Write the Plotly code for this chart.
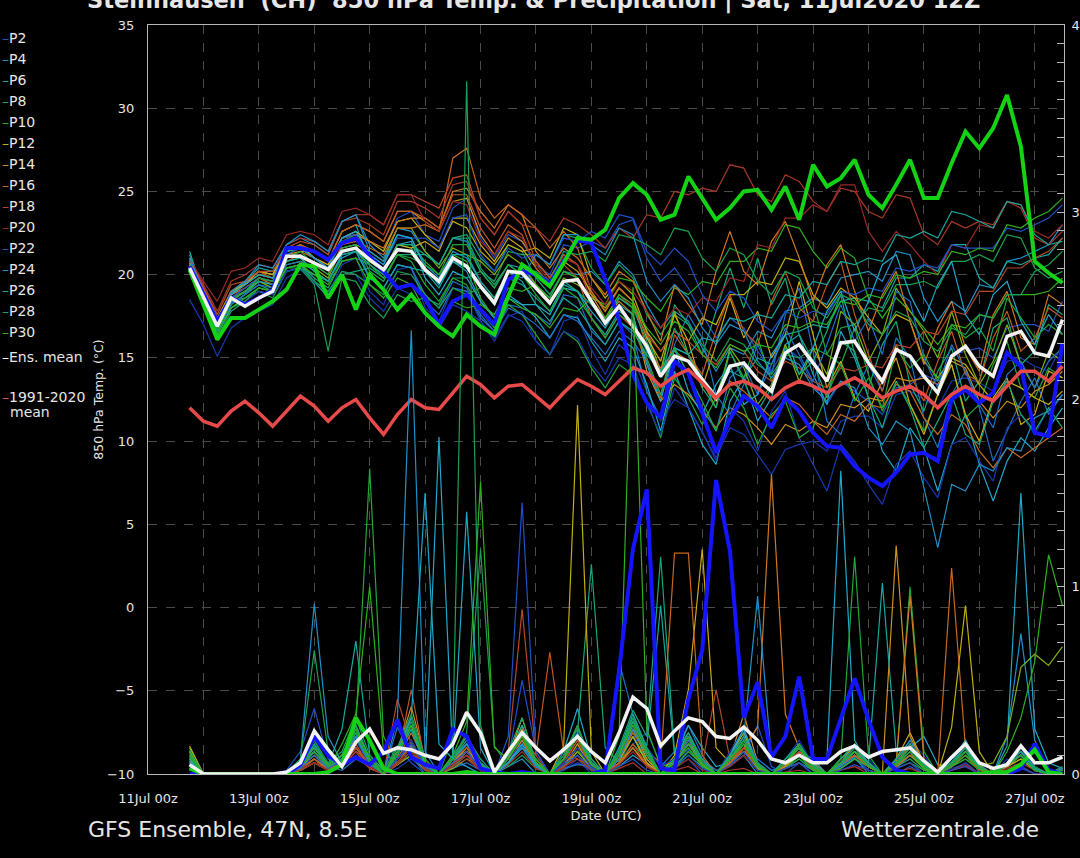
import plotly.graph_objects as go
import pandas as pd

# ---------------- data ----------------
start_time = "2020-07-11 18:00"
n_steps = 64
tick_dates = ["2020-07-11", "2020-07-13", "2020-07-15", "2020-07-17", "2020-07-19",
              "2020-07-21", "2020-07-23", "2020-07-25", "2020-07-27"]
tick_labels = ["11Jul 00z", "13Jul 00z", "15Jul 00z", "17Jul 00z", "19Jul 00z",
               "21Jul 00z", "23Jul 00z", "25Jul 00z", "27Jul 00z"]
temp_ticks = [-10, -5, 0, 5, 10, 15, 20, 25, 30, 35]
prec_ticks = [0, 10, 20, 30, 40]

ens_mean_temp = [20.4,18.7,16.9,18.6,18.1,18.6,19.0,21.1,21.1,20.7,20.3,21.4,21.6,20.9,20.3,21.5,21.4,20.3,19.6,21.0,20.5,19.3,18.3,20.2,20.1,19.2,18.3,19.6,19.7,18.4,17.1,18.1,16.9,15.7,13.9,15.1,14.8,13.7,12.6,14.5,14.7,13.7,13.0,15.3,15.8,14.7,13.6,15.9,16.0,14.7,13.6,15.5,15.1,13.9,12.9,15.1,15.7,14.5,13.9,16.3,16.6,15.3,15.1,17.3]
clim_temp = [12.0,11.2,10.9,11.8,12.4,11.7,10.9,11.8,12.7,12.1,11.2,12.0,12.5,11.4,10.4,11.6,12.5,12.0,11.9,12.9,13.9,13.4,12.6,13.3,13.4,12.7,12.0,12.9,13.7,13.3,12.8,13.6,14.4,14.1,13.3,13.9,14.3,13.5,12.6,13.4,13.6,13.2,12.5,13.2,13.6,13.3,12.9,13.4,13.8,13.3,12.6,13.0,13.3,12.8,12.0,12.8,13.3,12.8,12.4,13.3,14.2,14.2,13.6,14.5]
ctrl_temp = [20.3,18.2,16.1,17.4,17.4,17.9,18.4,19.1,20.6,20.5,18.6,20.0,17.9,20.0,19.1,17.9,18.8,17.7,16.9,16.3,17.6,16.9,16.4,18.7,20.6,20.0,19.3,20.7,22.2,22.1,22.7,24.6,25.5,24.8,23.3,23.6,25.9,24.6,23.3,24.0,25.0,25.1,23.9,25.3,23.3,26.6,25.3,25.8,26.9,24.8,24.0,25.4,26.9,24.6,24.6,26.7,28.6,27.6,28.8,30.8,27.7,20.8,20.1,19.5]
oper_temp = [20.5,18.8,17.2,18.6,18.2,18.6,19.1,21.6,21.6,21.4,20.9,21.9,22.2,21.1,20.2,19.2,19.4,18.6,17.0,18.4,18.8,17.9,17.0,19.7,20.2,20.0,19.5,20.8,22.1,21.9,19.7,17.3,14.0,12.3,11.4,14.8,14.1,11.7,9.3,11.3,12.7,12.1,10.8,12.6,11.8,10.5,9.7,9.6,8.5,7.8,7.3,8.1,9.2,9.3,8.8,12.5,13.1,12.3,12.9,15.3,14.5,10.5,10.3,15.9]

ens_mean_prec = [0.5,0,0,0,0,0,0,0.1,0.6,2.3,1.3,0.4,1.7,2.4,1.1,1.4,1.3,1.0,0.8,1.6,3.3,2.2,0.1,1.2,2.2,1.4,0.7,1.3,2.0,1.2,0.6,2.2,4.1,3.5,1.5,2.3,3.0,2.8,2.0,1.9,2.5,1.8,0.8,0.6,1.0,0.6,0.6,1.2,1.5,0.9,1.2,1.3,1.4,0.7,0.1,0.9,1.6,0.6,0.3,0.5,1.5,0.6,0.6,0.9]
oper_prec = [0,0,0,0,0,0,0,0,0.5,2.0,1.0,0.5,0.9,0.5,1.2,2.9,0.9,0.5,0.3,2.4,2.0,0.3,0.1,0,0.1,0,0,0,0,0,0.2,5.5,12.0,15.2,0.3,0.2,4.0,6.6,15.7,11.9,3.0,4.9,0.9,2.0,5.2,0.8,0.8,3.0,5.1,2.9,0.9,0.2,0,0,0,0,0,0,0,0,0.3,1.6,0.2,0]
ctrl_prec = [0.3,0,0,0,0,0,0,0,0,0,0.1,0.5,3.0,1.8,0.3,0,0,0,0,0,0.1,0,0,0,0,0,0,0,0,0,0,0,0,0,0,0,0,0,0,0,0,0,0,0,0,0,0,0,0,0,0,0,0,0,0,0,0,0,0.1,0.1,0.5,1.3,0.1,0]

# member temperatures (P1..P30)
p01_temp = [18.5, 17.0,15.1,16.8,17.4, 17.8,18.2,19.8,20.3, 19.5,18.8,20.6,21.0, 19.0,18.2,20.3,20.5, 18.0,17.2,19.2,19.0, 17.2,16.0,17.5,17.8, 16.0,15.2,17.2,17.5, 15.5,14.0,15.8,15.0, 13.0,11.2,12.5,12.0, 10.5,9.0,10.8,10.4, 9.2,8.0,9.5,9.8, 10.0,9.4,11.2,11.5, 11.5,10.8,12.8,13.0, 12.5,12.0,13.6,13.8, 13.5,13.0,14.8,15.0, 14.5,14.2,15.8]
p02_temp = [20.6, 18.6,17.0,18.3,18.8, 19.8,19.6,21.4,21.8, 21.0,20.4,22.2,22.6, 22.0,21.4,23.4,23.8, 22.4,22.0,24.0,24.6, 22.2,21.0,22.4,22.0, 20.6,20.0,21.8,21.6, 22.0,21.6,23.0,23.3, 21.0,19.6,20.4,19.2, 17.6,16.2,17.4,16.8, 15.4,14.2,15.6,15.0, 13.4,12.2,13.6,13.0, 12.4,11.6,13.2,13.4, 14.0,13.6,15.2,15.4, 15.6,15.0,16.8,17.0, 17.0,16.6,18.4]
p03_temp = [20.8, 18.8,16.8,18.6,18.9, 19.6,19.4,21.0,21.2, 20.6,20.0,21.6,21.8, 19.8,19.2,20.6,20.4, 18.4,17.6,19.2,19.0, 17.4,16.6,18.2,18.0, 17.6,17.0,18.8,18.6, 16.6,15.8,17.2,16.4, 13.0,11.4,15.8,17.6, 16.2,12.8,11.6,13.4, 15.8,14.0,17.6,19.2, 15.4,11.2,10.4,12.8, 14.6,13.0,16.2,15.0, 11.4,9.6,12.8,14.2, 12.0,8.8,10.6,12.4, 13.8,11.6,12.8]
p04_temp = [21.2, 19.0,17.2,18.9,19.5, 20.2,20.0,21.8,22.2, 21.8,21.2,23.2,23.6, 21.8,21.0,22.8,22.6, 21.4,20.6,22.2,22.0, 20.2,19.2,20.6,20.4, 19.4,18.6,20.2,20.0, 20.2,19.4,20.8,20.0, 18.2,16.8,17.8,17.2, 15.6,14.2,15.6,15.2, 16.6,16.2,17.8,18.0, 18.6,18.2,19.8,20.0, 20.2,19.6,21.4,21.2, 18.6,17.2,18.4,17.8, 19.4,19.2,20.8,21.0, 21.4,21.8,23.0]
p05_temp = [20.6, 18.4,16.6,18.4,18.6, 19.0,18.8,20.2,20.4, 20.0,19.6,21.0,21.4, 20.6,20.0,21.8,22.0, 19.8,18.8,20.2,19.8, 18.4,17.4,18.6,18.2, 17.4,16.2,17.6,17.4, 16.0,14.8,16.2,15.6, 13.4,10.6,14.2,12.0, 9.8,8.6,12.4,13.8, 11.2,12.6,15.8,16.4, 14.0,12.2,16.6,15.0, 12.6,9.4,8.2,10.8, 9.6,7.0,9.8,11.6, 8.6,6.4,8.8,10.2, 9.4,10.8,12.0]
p06_temp = [21.4, 18.9,16.8,18.8,19.6, 20.4,20.2,21.4,21.8, 21.4,20.8,22.6,23.0, 20.8,20.2,21.8,21.6, 20.2,19.2,20.8,20.4, 19.2,18.2,19.8,19.4, 18.6,17.8,19.4,19.0, 17.4,16.4,17.8,17.2, 15.4,14.0,15.6,15.2, 13.8,12.8,14.2,13.8, 15.0,14.6,16.4,16.6, 17.0,16.8,18.4,18.6, 18.4,18.0,19.8,19.8, 20.6,20.2,21.8,21.8, 19.8,19.2,20.8,20.6, 21.0,21.2,22.2]
p07_temp = [20.4, 18.4,16.4,18.2,18.8, 19.4,19.0,20.4,20.6, 19.6,18.6,20.0,20.2, 20.4,19.8,21.2,21.2, 21.2,20.6,22.2,22.4, 21.0,20.2,21.8,21.4, 19.8,18.8,20.2,19.8, 18.4,17.2,18.6,18.0, 16.4,13.8,18.2,17.0, 15.2,17.8,20.4,18.0, 21.0,18.2,19.8,16.4, 14.8,16.6,18.8,15.2, 13.2,15.8,17.2,13.4, 11.8,14.2,15.6,12.4, 13.6,16.8,17.4,14.6, 15.4,18.2,17.6]
p08_temp = [20.2, 18.2,16.4,18.0,18.4, 19.0,18.6,20.2,20.4, 19.4,15.4,19.8,19.6, 18.2,17.4,18.8,18.4, 18.6,18.2,19.8,19.8, 20.2,19.6,21.4,21.2, 21.2,20.6,22.4,22.2, 20.4,19.4,20.6,19.8, 17.6,16.4,17.6,17.0, 15.8,14.8,16.2,15.8, 14.6,14.0,15.2,15.0, 15.6,15.2,16.8,17.0, 18.0,17.8,19.4,19.4, 19.6,19.2,20.8,20.8, 21.2,20.8,22.4,22.2, 20.4,19.8,20.2]
p09_temp = [20.7, 18.6,16.6,18.6,19.0, 19.8,19.6,21.2,21.6, 21.0,20.4,22.0,22.4, 20.6,19.8,21.2,20.8, 19.4,18.4,19.8,19.4, 17.8,16.8,18.2,17.6, 16.4,15.2,16.6,16.0, 14.4,13.2,14.6,14.0, 12.4,10.2,13.8,12.6, 11.0,12.6,15.4,13.8, 16.2,13.6,15.0,17.8, 18.4,15.2,14.6,16.8, 14.0,11.8,13.6,12.2, 10.6,12.8,14.6,11.4, 12.2,14.6,16.0,13.2, 12.6,14.4,13.8]
p10_temp = [20.5, 18.4,16.6,18.2,18.8, 19.6,19.2,20.8,21.0, 20.2,19.6,21.2,21.4, 20.8,20.2,21.8,21.8, 20.8,20.0,21.2,20.8, 18.6,17.4,18.6,18.0, 17.6,16.8,18.0,17.8, 18.6,18.2,19.8,19.6, 18.6,17.8,19.2,18.8, 19.6,19.4,20.8,20.8, 21.6,21.4,23.0,22.8, 21.4,20.4,21.6,21.0, 18.6,17.4,18.6,17.8, 16.8,15.8,17.0,16.8, 17.6,17.4,18.8,18.8, 18.8,19.0,19.8]
p11_temp = [20.6, 18.6,16.8,18.4,19.0, 19.6,19.2,20.6,20.8, 20.4,19.8,21.6,21.8, 21.4,20.8,22.8,22.8, 21.4,20.4,21.6,21.2, 20.8,20.0,21.2,20.6, 19.4,18.4,19.8,19.4, 18.8,18.0,19.2,18.4, 16.6,14.2,17.8,15.2, 13.6,12.0,15.6,14.4, 12.2,13.4,15.8,13.6, 15.6,14.0,17.8,17.0, 14.8,16.4,19.2,17.8, 16.6,15.0,17.8,15.2, 13.4,14.8,17.0,14.6, 13.2,15.4,14.8]
p12_temp = [20.9, 19.0,17.2,19.0,19.4, 20.2,20.0,21.4,21.6, 21.0,20.6,22.2,22.6, 22.0,21.4,23.2,23.4, 22.4,21.6,23.2,22.8, 21.4,20.6,21.8,21.4, 21.6,21.0,22.8,22.4, 19.8,18.6,19.6,18.8, 16.6,15.4,16.6,16.0, 17.4,17.0,18.8,18.8, 19.6,19.4,21.0,20.8, 18.8,18.0,19.2,18.6, 17.4,16.4,17.6,17.2, 14.8,13.8,15.0,14.6, 13.4,12.4,13.6,13.2, 12.6,12.2,13.0]
p13_temp = [21.0, 19.2,17.4,19.0,19.6, 20.2,20.0,21.4,21.8, 21.0,20.6,22.2,22.4, 20.8,20.2,21.8,21.6, 22.0,21.4,23.4,23.4, 21.8,20.8,22.2,21.6, 20.4,19.4,20.8,20.2, 19.0,17.8,19.2,18.4, 16.2,14.8,17.6,16.0, 13.2,15.8,18.6,16.2, 17.8,15.0,16.4,19.6, 16.4,13.2,14.8,12.6, 11.8,13.6,15.0,12.2, 10.4,12.8,14.6,11.6, 10.0,12.6,13.8,11.0, 11.6,14.2,13.8]
p14_temp = [20.9, 19.0,17.2,18.8,19.4, 20.0,19.8,21.2,21.4, 21.4,20.8,22.6,23.0, 22.6,22.0,23.8,23.8, 23.2,22.6,24.4,24.6, 22.4,21.2,22.6,22.0, 20.8,19.8,21.2,20.6, 18.8,17.4,18.4,17.6, 14.2,12.4,13.4,12.8, 11.8,10.8,12.0,11.6, 10.8,9.8,11.0,10.6, 11.2,10.8,12.2,12.0, 12.6,12.4,13.8,13.6, 13.8,13.4,14.8,14.4, 12.4,11.4,12.4,12.0, 13.0,13.4,14.2]
p15_temp = [20.7, 18.9,17.0,18.8,19.2, 19.8,19.6,21.0,21.4, 21.0,20.4,22.2,22.4, 22.0,21.6,23.2,23.4, 23.4,22.8,25.0,25.2, 23.8,22.8,24.2,23.6, 21.4,20.4,21.6,21.0, 19.8,18.8,20.2,19.6, 17.8,16.0,19.4,18.2, 17.0,20.2,22.6,20.2, 19.4,22.0,23.2,21.0, 18.4,20.6,21.8,19.0, 16.6,18.8,20.2,17.2, 14.6,16.8,18.4,15.6, 14.2,17.6,19.0,16.2, 15.8,18.8,18.2]
p16_temp = [20.6, 18.8,16.8,18.6,19.2, 19.8,19.4,20.8,21.2, 20.6,20.0,21.8,22.0, 21.6,21.2,22.8,22.8, 23.0,22.6,27.0,27.6, 24.6,23.4,24.2,23.6, 22.8,21.6,22.6,21.6, 19.0,17.8,19.2,18.4, 15.6,14.4,15.4,14.8, 13.4,12.4,13.6,13.0, 12.2,11.4,12.6,12.2, 11.2,10.4,11.6,11.2, 12.2,12.0,13.4,13.0, 11.4,10.4,11.6,11.0, 9.4,8.4,9.6,9.0, 9.6,10.2,10.8]
p17_temp = [20.8, 19.1,17.2,19.0,19.6, 20.2,19.8,21.4,21.8, 21.4,20.8,22.6,23.0, 22.6,22.0,23.8,23.8, 23.4,22.8,24.8,24.8, 22.8,21.6,23.0,22.4, 20.4,19.4,20.6,19.8, 17.4,16.2,17.6,16.8, 14.8,12.6,16.4,15.2, 14.0,16.6,18.8,16.6, 15.8,18.4,20.2,18.0, 17.2,19.4,20.8,17.6, 15.2,13.0,15.8,14.0, 12.4,14.8,16.6,14.0, 13.6,16.2,17.8,15.4, 16.2,18.0,17.4]
p18_temp = [20.9, 19.2,17.6,19.4,19.6, 20.2,20.2,21.6,22.0, 21.8,21.2,23.2,23.6, 23.6,23.0,24.8,24.8, 24.4,24.0,25.8,26.0, 23.4,22.4,23.8,23.0, 20.8,19.8,21.2,20.6, 18.4,17.4,18.8,18.0, 16.4,15.4,16.6,16.0, 15.2,14.6,15.8,15.4, 14.2,13.6,14.8,14.4, 13.6,13.2,14.4,14.2, 14.6,14.4,15.8,15.6, 16.6,16.4,17.8,17.6, 19.0,19.0,20.4,20.4, 21.0,21.4,22.2]
p19_temp = [21.0, 19.4,17.8,19.6,20.0, 20.6,20.4,21.8,22.2, 22.0,21.4,23.2,23.4, 23.0,22.4,24.4,24.4, 24.0,23.4,25.4,25.6, 23.4,22.4,23.8,23.0, 22.8,22.0,23.4,23.0, 22.4,21.6,22.8,22.2, 23.6,23.4,25.0,24.8, 25.2,25.0,26.6,26.4, 24.8,24.4,26.0,25.6, 24.4,23.8,25.2,25.0, 23.8,23.4,24.8,24.6, 22.4,21.8,23.2,22.8, 23.2,23.0,24.4,24.0, 22.2,21.8,22.6]
p20_temp = [20.9, 19.6,18.4,20.2,20.4, 21.0,20.8,22.4,22.6, 22.4,21.8,23.8,24.0, 23.6,23.0,24.8,24.8, 23.2,22.6,24.4,24.2, 22.0,21.2,22.6,22.2, 20.6,19.6,21.0,20.6, 19.2,18.2,19.6,19.0, 17.8,16.8,18.0,17.6, 18.6,18.4,19.8,19.6, 21.8,21.6,23.4,23.4, 24.2,23.8,25.4,25.4, 22.6,21.4,22.6,21.8, 20.8,20.0,21.8,21.6, 23.0,22.8,24.4,24.2, 22.6,22.2,23.0]
p21_temp = [20.3, 18.2,16.2,17.8,18.4, 19.0,18.8,20.2,20.4, 19.6,19.0,20.2,20.0, 18.6,17.8,19.2,18.8, 17.6,16.8,18.2,17.8, 17.2,16.2,17.6,17.2, 16.0,15.2,16.6,16.2, 14.6,13.6,15.0,14.6, 12.2,10.4,13.2,12.0, 10.6,8.8,12.0,11.2, 9.4,11.8,13.0,10.2, 8.6,7.0,9.8,8.8, 7.4,6.2,8.6,9.4, 7.8,6.6,9.8,10.2, 8.8,7.6,10.8,11.6, 10.4,12.0,12.6]
p22_temp = [20.6, 18.6,16.8,18.6,19.2, 19.8,19.6,21.2,21.6, 21.0,20.4,22.2,22.4, 21.2,20.6,22.2,22.2, 22.2,21.6,23.4,23.6, 21.2,20.2,21.6,21.0, 21.2,20.6,22.2,22.0, 22.6,22.2,23.6,23.4, 21.4,20.6,21.6,20.8, 18.8,17.8,19.0,18.6, 17.2,16.6,17.8,17.4, 17.8,17.6,19.0,18.8, 19.2,19.0,20.4,20.2, 20.6,20.4,21.8,21.6, 21.6,21.6,22.8,22.6, 23.0,23.4,24.2]
p23_temp = [20.5, 18.4,16.4,18.2,18.8, 19.4,19.2,20.6,20.8, 20.2,19.6,21.2,21.4, 19.8,19.2,20.6,20.4, 18.8,18.0,19.6,19.2, 17.6,16.6,18.0,17.6, 17.0,16.2,17.6,17.2, 16.2,15.2,16.6,16.0, 14.8,12.8,15.6,14.0, 12.0,10.6,13.8,14.6, 12.8,14.6,16.8,15.2, 13.6,15.8,18.2,16.0, 17.4,15.2,19.0,18.4, 15.0,13.2,15.8,14.2, 12.2,10.8,14.0,14.8, 13.2,14.8,15.6]
p24_temp = [21.0, 19.0,17.0,19.0,19.6, 20.6,20.4,21.8,22.4, 22.0,21.4,23.2,23.6, 21.4,20.8,22.4,22.2, 20.6,19.8,21.4,21.0, 19.6,18.6,20.2,19.8, 21.2,20.6,22.4,22.4, 21.8,21.2,22.8,22.4, 19.6,18.4,19.4,18.6, 16.8,15.8,17.0,16.6, 14.8,13.8,15.0,14.6, 13.2,12.4,13.6,13.2, 10.8,9.8,11.2,10.6, 7.2,3.6,7.4,7.0, 8.6,8.2,9.6,9.4, 11.4,11.8,12.8]
p25_temp = [20.7, 18.8,16.8,18.8,19.4, 20.0,19.8,21.4,21.6, 21.0,20.4,22.2,22.6, 21.2,20.6,22.4,22.2, 20.4,19.4,20.8,20.2, 18.4,17.4,18.8,18.2, 18.2,17.6,19.2,19.0, 17.8,16.8,18.2,17.6, 14.6,12.4,15.6,13.0, 11.6,13.4,14.6,12.2, 12.8,15.2,16.4,14.0, 15.6,17.8,19.0,16.6, 18.4,20.6,21.2,18.8, 17.2,19.4,20.8,17.6, 16.4,18.8,19.6,17.2, 15.8,17.6,16.4]
p26_temp = [20.5, 18.4,16.6,18.4,19.0, 19.6,19.4,20.8,21.0, 20.2,19.6,21.2,21.4, 19.8,19.2,20.6,20.4, 20.2,19.6,21.2,21.2, 19.6,18.6,20.2,19.6, 18.2,17.2,18.6,18.0, 16.8,15.8,17.2,16.6, 15.2,14.2,15.6,15.2, 16.2,16.0,17.4,17.2, 17.6,17.4,18.8,18.6, 19.6,19.4,20.8,20.6, 21.0,20.8,22.4,22.2, 22.6,22.2,23.8,23.6, 23.2,22.8,24.4,24.2, 22.4,21.8,22.0]
p27_temp = [20.4, 18.3,16.4,18.0,18.6, 19.2,19.0,20.4,20.6, 19.8,19.2,20.8,21.0, 20.6,20.0,21.8,21.8, 21.2,20.6,22.2,22.2, 20.4,19.4,20.6,20.0, 19.2,18.2,19.6,19.0, 18.2,17.2,18.6,18.0, 16.0,13.8,16.8,15.2, 13.2,12.0,15.4,13.6, 11.8,13.2,15.6,14.0, 14.8,12.6,16.0,15.4, 12.6,10.8,13.6,12.0, 9.6,11.2,12.8,10.4, 9.8,12.4,13.6,11.6, 10.6,12.0,10.8]
p28_temp = [20.2, 18.2,16.2,17.8,18.4, 19.2,19.0,20.4,20.4, 19.6,19.0,20.2,20.0, 19.4,18.8,20.2,20.0, 18.8,18.0,19.2,18.8, 19.2,18.6,20.2,20.2, 20.2,19.6,21.4,21.2, 21.4,20.8,22.4,22.2, 21.8,21.2,22.8,22.6, 21.0,20.2,21.6,21.2, 19.6,18.8,20.2,19.8, 18.0,17.4,18.8,18.4, 17.0,16.4,17.8,17.4, 16.0,15.4,16.8,16.4, 17.6,17.4,18.8,18.8, 20.2,20.6,21.4]
p29_temp = [20.6, 18.6,16.6,18.4,19.0, 19.8,19.6,21.0,21.4, 20.6,20.0,21.6,21.8, 20.2,19.6,21.2,21.0, 20.6,20.0,21.8,21.8, 20.2,19.2,20.6,20.0, 18.8,17.8,19.2,18.6, 17.4,16.2,17.6,17.0, 15.0,12.8,15.6,14.0, 12.4,10.6,13.2,12.0, 9.8,11.6,12.4,10.2, 10.8,12.8,14.6,12.4, 13.8,12.0,15.6,14.4, 15.2,13.6,17.0,16.2, 16.8,15.4,18.6,17.4, 16.2,17.0,16.4]
p30_temp = [20.3, 18.3,16.4,18.0,18.6, 19.2,19.0,20.4,20.6, 20.0,19.4,20.8,21.0, 19.4,18.6,19.8,19.4, 17.8,16.8,18.4,18.0, 18.2,17.6,19.2,19.0, 19.4,18.6,20.2,19.8, 18.4,17.4,18.8,18.2, 16.8,15.8,17.2,16.6, 15.2,14.4,15.8,15.4, 15.8,15.6,17.0,16.8, 17.2,17.0,18.4,18.2, 18.8,18.6,20.0,19.8, 20.2,20.0,21.4,21.2, 21.6,21.4,23.0,22.8, 23.4,23.8,24.6]

# member precipitation (mm / 6h)
p01_prec = [0.4, 0,0,0,0, 0,0,0,0.4, 1.0,0.2,0.6,1.4, 0.5,0,0.3,0.8, 0.2,0,0.6,0.4, 0,0,1.0,1.8, 0.4,0,0.2,0.8, 0,0,0.5,1.6, 2.2,0.6,0.4,1.3, 0.7,0,1.0,2.2, 0.8,0.2,0.5,1.6, 0.3,0,0.4,1.0, 0.2,0,0.7,1.8, 1.0,0,0.3,0.5, 0,0,0.8,0.3, 0,0,0]
p02_prec = [0.6, 0,0,0,0, 0,0,0.2,1.2, 3.5,0.8,0.4,2.0, 0.8,0.2,1.5,0.6, 0,0,0.4,1.2, 0.3,0,0.8,5.0, 1.2,0,0.2,0.6, 0.2,0,1.4,2.2, 0.6,0,0.3,0.8, 0,0,0.5,1.0, 2.6,0.4,0,0.6, 0,0,0.3,0.8, 0.2,0,0,0.4, 0,0,0.2,0.6, 0,0,0.3,1.2, 0.4,0,0]
p03_prec = [0.3, 0,0,0,0, 0,0,0,0.3, 1.5,0.4,0.2,0.8, 0.4,0,2.5,1.0, 0,0,0.3,0.6, 0.2,0,0.5,1.5, 0.8,0,0.3,0.5, 0.4,0,6.0,3.2, 1.4,0.4,1.2,2.6, 1.0,0,0.6,1.4, 0.8,0.2,0.4,1.0, 0.5,0,0.8,1.4, 0.6,0,0.3,1.0, 0.5,0,0.8,1.6, 0.4,0,0.4,0.8, 0.2,0,0.3]
p04_prec = [0.5, 0,0,0,0, 0,0,0,0.8, 9.1,2.0,0.6,1.4, 0.5,0,0.8,1.6, 0.4,0,0.6,1.0, 0.2,0,0.4,0.8, 0,0,0.3,1.2, 0.5,0,0.8,2.4, 1.2,0,0.6,1.6, 0.8,0.2,0.4,1.0, 0,0,0.3,0.6, 0.2,0,0.4,0.9, 0,0,0.6,1.2, 0.3,0,0.5,1.6, 0,0,2.0,7.5, 1.8,0.2,0]
p05_prec = [0.4, 0,0,0,0, 0,0,0,0.2, 0.8,0.3,1.0,2.2, 0.6,0,0.5,1.0, 0.3,18.0,0.8,0.4, 0,0,0.6,1.4, 0.4,0,1.2,3.5, 0.8,0,0.4,1.0, 0.5,0,0.8,2.6, 1.4,0.4,0.6,1.8, 0.6,0,0.5,1.2, 0.8,0,0.3,0.8, 0.4,0,0.6,1.4, 2.0,0.5,0.4,1.0, 0.3,0,1.5,15.0, 2.4,0.6,0.3]
p06_prec = [0.8, 0,0,0,0, 0,0,0,0.6, 1.4,0.5,2.4,7.1, 1.0,0.2,0.6,1.5, 0.4,0,0.8,1.2, 0.5,0,1.0,2.4, 0.6,0,0.4,1.0, 0.3,0,1.2,2.8, 1.5,9.0,1.0,2.0, 0.8,0,0.6,1.4, 0.5,0,0.8,1.6, 0.4,0,0.5,1.0, 0.6,0,0.4,1.2, 0.3,0,0.6,1.8, 0.5,0,0.4,1.0, 0.3,0,0.2]
p07_prec = [0.6, 0,0,0,0, 0,0,0,0.3, 1.6,0.4,0.8,2.0, 0.4,0,1.2,2.6, 0.6,0,0.4,1.0, 0.2,0,0.6,1.8, 0.4,0,0.8,2.2, 11.2,1.4,0.6,2.0, 0.8,0,0.4,1.2, 0.6,0,1.0,2.4, 0.4,0,0.3,0.8, 0.2,0,0.6,1.4, 0.5,0,0.4,0.8, 0.2,0,0.5,1.2, 0.4,0,0.6,1.0, 0.2,0,0.4]
p08_prec = [1.2, 0,0,0,0, 0,0,0.1,0.8, 6.6,1.2,0.6,2.4, 0.8,0.2,1.4,3.0, 0.6,0,0.8,2.2, 12.0,1.5,0.4,1.0, 0.3,0,0.6,1.4, 0.2,0,0.8,2.0, 0.6,0,0.3,1.0, 0.4,0,0.5,1.2, 0.3,0,0.4,0.8, 0.2,0,0.6,1.0, 0.4,0,0.3,0.6, 0.2,0,0.4,0.8, 0.3,0,0.6,1.2, 0.4,0,0.2]
p09_prec = [0.9, 0,0,0,0, 0,0,0,0.6, 1.8,0.4,0.8,2.6, 16.3,2.0,0.6,1.4, 0.4,0,0.6,1.6, 0.3,0,0.8,2.0, 0.5,0,0.4,1.0, 0.2,0,0.6,1.6, 0.8,0,0.4,1.2, 0.5,0,0.8,1.8, 0.4,0,0.3,1.0, 0.2,0,0.5,1.2, 0.4,0,0.6,10.0, 1.2,0,0.4,0.8, 0.2,0,0.5,1.0, 0.3,0,0.2]
p10_prec = [1.0, 0,0,0,0, 0,0,0,0.4, 1.2,0.3,1.6,3.2, 10.0,1.2,0.5,1.2, 0.3,0,0.6,1.4, 0.4,0,0.8,1.6, 0.5,0,0.3,1.2, 0.6,0,2.0,26.0, 2.4,0.4,0.6,1.4, 0.4,0,0.6,1.6, 0.3,0,0.4,1.0, 0.2,0,0.3,0.8, 0.4,0,0.5,1.2, 0.3,0,0.4,1.0, 0.2,0,0.4,0.8, 0.2,0,0]
p11_prec = [1.4, 0,0,0,0, 0,0,0,0.2, 0.6,0.2,0.4,1.2, 0.4,0,0.5,1.0, 0.2,0,0.3,0.8, 0.4,0,0.6,1.4, 0.8,0,0.4,1.2, 0.3,0,0.6,2.4, 1.0,0,0.8,1.8, 0.5,0,0.6,1.2, 0.3,0,0.4,1.0, 0.6,0,0.8,1.6, 0.4,0,0.5,1.0, 0.3,0,0.6,1.4, 0.4,0.6,2.0,5.7, 6.4,5.8,6.8]
p12_prec = [1.5, 0,0,0,0, 0,0,0,0.3, 0.8,0.2,0.6,1.4, 0.5,0,0.8,1.8, 0.4,0,0.6,1.2, 0.3,0,1.0,2.4, 0.6,0,1.5,19.7, 1.2,0,0.6,1.4, 0.5,0,0.8,2.0, 0.6,0,1.0,2.2, 0.4,0,0.6,1.4, 0.3,0,0.5,1.2, 0.4,0,0.6,1.6, 0.5,0,2.5,9.0, 1.2,0,0.4,0.8, 0.2,0,0.3]
p13_prec = [1.2, 0,0,0,0, 0,0,0,0.2, 0.6,0.2,0.5,1.2, 0.4,0,0.6,1.4, 0.3,0,0.8,1.6, 0.4,0,0.8,3.0, 0.6,0,0.4,1.6, 0.3,0,0.8,2.0, 0.6,0,1.0,4.5, 12.0,1.4,0.6,1.2, 0.5,0,0.6,1.4, 0.3,0,0.5,1.0, 0.4,0,0.8,2.2, 0.6,0,0.4,1.8, 0.3,0,0.6,1.2, 0.2,0,0.3]
p14_prec = [0.8, 0,0,0,0, 0,0,0,0.4, 1.0,0.3,0.6,2.0, 0.5,0,1.2,3.6, 0.8,0,0.6,1.4, 0.4,0,0.8,2.6, 0.5,0,0.6,1.8, 0.4,0,0.8,2.4, 0.8,0,0.6,1.6, 0.5,0,0.8,3.2, 0.6,0,0.4,1.2, 0.3,0,0.6,1.6, 0.4,0,12.2,2.0, 0.5,0,0.6,1.4, 0.3,0,0.4,1.0, 0.2,0,0.2]
p15_prec = [0.7, 0,0,0,0, 0,0,0,0.3, 0.8,0.2,0.5,1.4, 0.4,0,0.8,2.2, 0.6,0,0.5,1.2, 0.3,0,0.6,1.8, 0.5,0,0.8,2.6, 0.6,0,0.5,1.4, 0.4,0,0.6,1.8, 0.8,0,0.5,1.4, 2.5,16.0,3.2,1.4, 0.6,0,0.5,1.2, 0.4,0,0.6,9.5, 0.8,0,0.5,1.2, 0.4,0,0.6,1.0, 0.2,0,0]
p16_prec = [0.6, 0,0,0,0, 0,0,0,0.2, 0.6,0.2,0.4,1.2, 0.3,0,0.6,1.6, 0.4,0,0.5,1.0, 0.4,0,0.8,2.4, 0.6,0,0.4,1.4, 0.5,0,0.8,2.2, 1.2,0.6,11.8,11.8, 1.0,0,0.6,1.4, 0.4,0,0.5,1.2, 0.3,0,0.6,1.4, 0.5,0,0.4,1.0, 0.6,0,11.0,1.4, 0.4,0,0.5,1.0, 0.2,0,0.3]
p17_prec = [0.5, 0,0,0,0, 0,0,0,0.3, 0.8,0.2,0.6,1.6, 0.4,0,0.8,4.5, 0.6,0,0.5,1.2, 0.3,0,0.8,2.0, 1.0,6.5,1.2,0.8, 0.4,0,0.6,1.6, 0.5,0,0.8,2.0, 0.6,0,0.5,1.4, 0.4,0,0.6,1.2, 0.3,0,0.5,1.0, 0.4,0,0.6,1.6, 0.5,0,0.4,1.2, 0.3,0,0.5,1.0, 0.2,0,0.2]
p18_prec = [0.4, 0,0,0,0, 0,0,0,0.5, 1.2,0.3,0.6,1.4, 0.5,0,4.0,1.6, 0.4,0,0.8,1.4, 0.6,0,1.2,8.8, 1.0,0,0.6,1.8, 0.5,0,0.8,2.4, 1.0,0,0.6,1.6, 0.5,4.5,0.8,1.4, 0.4,0,0.6,1.2, 0.3,0,0.5,1.2, 0.4,0,0.6,1.4, 0.3,0,0.4,1.0, 0.2,0,0.6,1.2, 0.3,0,0]
p19_prec = [0.3, 0,0,0,0, 0,0,0,0.2, 0.6,0.2,0.4,1.0, 0.3,0,0.5,1.2, 0.2,0,0.4,0.8, 0.2,0,0.5,1.2, 0.3,0,0.4,0.8, 0.2,0,0.3,0.6, 0,0,0.2,0.4, 0,0,0.2,0.3, 0,0,0.1,0.2, 0,0,0.2,0.4, 0,0,0.1,0.3, 0,0,0.2,0.4, 0,0,0.3,0.6, 0.2,0,0]
p20_prec = [0.3, 0,0,0,0, 0,0,0,0.3, 0.6,0.2,0.5,1.2, 0.4,0,0.6,1.4, 0.3,0,0.5,1.0, 0.2,0,0.6,1.4, 0.4,0,0.3,1.0, 0.3,0,0.5,1.2, 0.4,0,0.3,0.8, 0.2,0,0.4,1.0, 0.2,0,0.3,0.6, 0,0,0.2,0.4, 0.2,0,0.3,0.6, 0,0,0.2,0.5, 0,0,0.3,0.4, 0,0,0]
p21_prec = [0.4, 0,0,0,0, 0,0,0,0.6, 1.6,0.5,0.8,2.2, 0.6,0,0.8,1.8, 0.5,0,1.0,2.0, 0.6,0,0.8,1.6, 0.5,0,0.6,1.4, 0.4,0,1.0,2.6, 1.4,0.4,0.8,2.0, 0.8,0,1.2,2.4, 0.6,0,0.8,1.8, 0.5,0,0.6,1.4, 0.8,0,0.5,1.2, 0.4,0,0.6,1.6, 0.3,0,0.5,1.2, 0.2,0,0.3]
p22_prec = [0.5, 0,0,0,0, 0,0,0,0.4, 1.4,0.4,0.6,1.8, 0.5,0,0.8,1.6, 0.4,0,0.6,1.2, 0.3,0,2.0,14.5, 1.2,0,0.5,1.0, 0.3,0,0.4,0.8, 0.2,0,0.4,1.0, 0.3,0,0.5,1.2, 0.2,0,0.3,0.6, 0,0,0.2,0.5, 0.2,0,0.3,0.6, 0,0,0.2,0.4, 0,0,0.2,0.4, 0,0,0]
p23_prec = [0.6, 0,0,0,0, 0,0,0,0.3, 1.0,0.3,0.8,2.0, 0.6,0,1.0,2.4, 0.4,0,0.8,1.6, 0.5,0,0.6,1.4, 0.4,0,0.8,2.0, 0.5,0,1.2,3.0, 1.2,0,0.6,1.8, 0.8,0,1.0,2.0, 0.5,0,0.6,1.4, 0.3,0,0.5,1.2, 0.5,0,0.6,1.4, 0.4,0,0.5,1.2, 0.3,0,0.6,1.4, 0.3,0,0.2]
p24_prec = [0.5, 0,0,0,0, 0,0,0,0.5, 1.2,0.4,0.8,2.0, 0.6,0,3.0,23.7, 1.2,0,0.8,1.6, 0.5,0,0.6,1.4, 0.4,0,0.8,2.2, 0.6,0,0.8,2.4, 1.0,0,0.6,1.6, 0.6,0,0.8,2.0, 9.5,0.8,0.6,1.4, 0.4,0,0.5,1.2, 0.6,0,0.8,1.8, 0.5,0,0.6,1.4, 0.3,0,0.5,1.0, 0.2,0,0.3]
p25_prec = [0.7, 0,0,0,0, 0,0,0,0.6, 1.4,0.5,1.0,2.6, 0.8,0,1.2,3.0, 15.0,1.6,0.8,14.0, 1.4,0,0.6,1.6, 0.5,0,0.8,2.0, 0.6,0,1.0,2.8, 1.2,0,0.8,2.2, 0.6,0,1.0,2.4, 0.5,0,0.6,1.6, 0.4,0.8,16.2,1.8, 0.5,0,0.6,1.4, 0.4,0,0.8,1.8, 0.3,0,0.6,1.2, 0.3,0,0.2]
p26_prec = [0.8, 0,0,0,0, 0,0,0,0.4, 1.2,0.4,0.8,2.2, 0.6,0,1.0,2.4, 0.5,0,0.8,1.8, 0.6,0,1.0,2.6, 0.5,0,0.8,2.0, 0.6,0,1.2,3.2, 1.4,0,0.8,2.0, 0.6,0,0.8,1.8, 0.4,0,0.6,1.4, 0.5,0,0.8,1.6, 0.6,10.2,1.2,1.4, 0.4,0,0.6,1.2, 0.3,0,0.5,1.0, 0.2,0,0.2]
p27_prec = [1.0, 0,0,0,0, 0,0,0,0.5, 1.6,0.5,1.0,2.6, 0.8,0,1.2,2.8, 0.6,0,1.0,2.0, 0.8,0,1.2,3.0, 0.6,0,1.0,2.4, 0.8,0,1.4,3.4, 2.0,11.6,1.2,2.2, 0.8,0,1.0,2.0, 0.6,0,0.8,1.6, 0.5,0,0.6,1.4, 0.6,0,0.8,1.6, 0.5,0,0.6,1.4, 0.4,0,0.6,1.2, 0.3,0,0.2]
p28_prec = [1.3, 0,0,0,0, 0,0,0,0.6, 1.8,0.6,1.2,3.0, 1.0,0,1.4,3.2, 0.8,0,2.0,37.0, 2.6,0,1.0,2.2, 0.8,0,1.0,2.6, 0.6,0,1.2,3.0, 1.4,0,0.8,2.0, 0.6,0,0.8,1.8, 0.5,0,0.6,1.4, 0.4,0,0.6,1.2, 0.5,0,0.6,1.4, 0.4,0,0.5,1.2, 0.3,0,0.5,1.0, 0.2,0,0.2]
p29_prec = [0.9, 0,0,0,0, 0,0,0,0.4, 1.2,0.4,0.8,2.2, 0.6,0,1.0,2.6, 0.6,0,0.8,2.0, 0.5,0,0.8,2.2, 0.6,0,0.8,2.0, 0.5,0,1.0,2.8, 1.2,0,0.8,2.0, 0.6,0,0.8,1.8, 0.5,0,0.6,1.6, 0.4,0,0.8,11.6, 1.0,0,0.6,1.4, 0.4,0,0.6,1.2, 0.3,0,0.5,1.0, 0.2,0,0.2]
p30_prec = [1.1, 0,0,0,0, 0,0,0,0.5, 1.4,0.5,1.0,2.4, 0.8,0,1.2,2.6, 0.6,0,1.0,2.8, 15.6,1.4,0.8,2.0, 0.6,0,0.8,2.0, 0.5,0,1.0,2.6, 1.0,0,0.6,1.6, 0.5,0,0.8,1.6, 0.4,0,0.6,1.4, 0.3,0,0.6,1.2, 0.4,0,0.5,1.2, 0.3,0,0.4,1.0, 0.3,0,1.2,3.0, 6.0,11.7,9.0]

member_palette = ['#1838b0', '#2050c8', '#2070c8', '#2090c8', '#20a8c8',
                  '#18a8a0', '#18a878', '#1aa050', '#20a838', '#30b020',
                  '#80b010', '#c0b010', '#d0a818', '#d09020', '#d07820',
                  '#c86820', '#c05820', '#b84828', '#a83828', '#982828']

member_temps = [p01_temp, p02_temp, p03_temp, p04_temp, p05_temp, p06_temp, p07_temp, p08_temp,
                p09_temp, p10_temp, p11_temp, p12_temp, p13_temp, p14_temp, p15_temp, p16_temp,
                p17_temp, p18_temp, p19_temp, p20_temp, p21_temp, p22_temp, p23_temp, p24_temp,
                p25_temp, p26_temp, p27_temp, p28_temp, p29_temp, p30_temp]
member_precs = [p01_prec, p02_prec, p03_prec, p04_prec, p05_prec, p06_prec, p07_prec, p08_prec,
                p09_prec, p10_prec, p11_prec, p12_prec, p13_prec, p14_prec, p15_prec, p16_prec,
                p17_prec, p18_prec, p19_prec, p20_prec, p21_prec, p22_prec, p23_prec, p24_prec,
                p25_prec, p26_prec, p27_prec, p28_prec, p29_prec, p30_prec]

for nm, arr in [("mean", ens_mean_temp), ("clim", clim_temp), ("ctrl", ctrl_temp), ("oper", oper_temp),
                ("meanp", ens_mean_prec), ("operp", oper_prec), ("ctrlp", ctrl_prec)]:
    assert len(arr) == n_steps, (nm, len(arr))
for k in range(30):
    assert len(member_temps[k]) == n_steps, ("temp", k + 1, len(member_temps[k]))
    assert len(member_precs[k]) == n_steps, ("prec", k + 1, len(member_precs[k]))

# ---------------- figure ----------------
times = pd.date_range(start_time, periods=n_steps, freq="6h")
FONT = "DejaVu Sans, sans-serif"
TXT = "#e6e6e6"
GRID = "#4a4a4a"
FRAME = "#b8b8b8"

W, H = 1080, 858
ML, MR, MT, MB = 148, 16, 25, 84
PW, PH = W - ML - MR, H - MT - MB

def px2x(px):
    return (px - ML) / PW

def py2y(py):
    return (H - MB - py) / PH

fig = go.Figure()

for k in range(30):
    fig.add_trace(go.Scatter(x=times, y=member_precs[k], yaxis="y2", mode="lines",
                             line=dict(color=member_palette[k % 20], width=1.2),
                             name=f"P{k+1}", showlegend=False, hoverinfo="skip"))
for k in range(30):
    fig.add_trace(go.Scatter(x=times, y=member_temps[k], mode="lines",
                             line=dict(color=member_palette[k % 20], width=1.2),
                             name=f"P{k+1}", showlegend=False))

fig.add_trace(go.Scatter(x=times, y=oper_prec, yaxis="y2", mode="lines",
                         line=dict(color="#1414ff", width=4), showlegend=False, name="Oper. precip"))
fig.add_trace(go.Scatter(x=times, y=oper_temp, mode="lines",
                         line=dict(color="#1414ff", width=4), showlegend=False, name="Oper."))
fig.add_trace(go.Scatter(x=times, y=ctrl_prec, yaxis="y2", mode="lines",
                         line=dict(color="#14d214", width=4), showlegend=False, name="Control precip"))
fig.add_trace(go.Scatter(x=times, y=ctrl_temp, mode="lines",
                         line=dict(color="#14d214", width=4), showlegend=False, name="Control"))
fig.add_trace(go.Scatter(x=times, y=ens_mean_prec, yaxis="y2", mode="lines",
                         line=dict(color="#f2f2f2", width=3.5), showlegend=False, name="Ens. mean precip"))
fig.add_trace(go.Scatter(x=times, y=ens_mean_temp, mode="lines",
                         line=dict(color="#f2f2f2", width=3.5), showlegend=False, name="Ens. mean"))
fig.add_trace(go.Scatter(x=times, y=clim_temp, mode="lines",
                         line=dict(color="#e84a4a", width=3.5), showlegend=False, name="1991-2020 mean"))

# legend drawn as text entries at the far left
annotations = []
legend_rows = []
for k in range(1, 30, 2):
    legend_rows.append((f"P{k+1}", member_palette[k % 20]))
row_y = 38
for label, col in legend_rows:
    annotations.append(dict(x=px2x(0), y=py2y(row_y), xref="paper", yref="paper",
                            xanchor="left", yanchor="middle", showarrow=False,
                            text=f"<span style='color:{col}'>–</span>{label}",
                            font=dict(family="DejaVu Sans", size=14, color=TXT)))
    row_y += 21
annotations.append(dict(x=px2x(0), y=py2y(357), xref="paper", yref="paper",
                        xanchor="left", yanchor="middle", showarrow=False,
                        text="<span style='color:#ffffff'>–</span>Ens. mean",
                        font=dict(family="DejaVu Sans", size=14, color=TXT)))
annotations.append(dict(x=px2x(0), y=py2y(397), xref="paper", yref="paper",
                        xanchor="left", yanchor="middle", showarrow=False,
                        text="<span style='color:#e84a4a'>–</span>1991-2020",
                        font=dict(family="DejaVu Sans", size=14, color=TXT)))
annotations.append(dict(x=px2x(8), y=py2y(412), xref="paper", yref="paper",
                        xanchor="left", yanchor="middle", showarrow=False,
                        text="mean",
                        font=dict(family="DejaVu Sans", size=14, color=TXT)))

# title (cut at the top edge as in the original) and footer texts
annotations.append(dict(x=px2x(533), y=py2y(0), xref="paper", yref="paper",
                        xanchor="center", yanchor="middle", showarrow=False,
                        text="<b>Steinhausen  (CH)  850 hPa Temp. &amp; Precipitation | Sat, 11Jul2020 12Z</b>",
                        font=dict(family="DejaVu Sans", size=22.5, color=TXT)))
annotations.append(dict(x=px2x(86), y=py2y(829), xref="paper", yref="paper",
                        xanchor="left", yanchor="middle", showarrow=False,
                        text="GFS Ensemble, 47N, 8.5E",
                        font=dict(family="DejaVu Sans", size=22, color=TXT)))
annotations.append(dict(x=px2x(1041), y=py2y(829), xref="paper", yref="paper",
                        xanchor="right", yanchor="middle", showarrow=False,
                        text="Wetterzentrale.de",
                        font=dict(family="DejaVu Sans", size=22, color=TXT)))

fig.update_layout(
    width=W, height=H,
    margin=dict(l=ML, r=MR, t=MT, b=MB, pad=0, autoexpand=False),
    paper_bgcolor="#000000", plot_bgcolor="#000000",
    showlegend=False,
    font=dict(family=FONT, size=13, color=TXT),
    annotations=annotations,
    xaxis=dict(
        type="date", automargin=False,
        range=["2020-07-11 00:00", "2020-07-27 12:40"],
        tickvals=pd.to_datetime(tick_dates), ticktext=tick_labels,
        ticks="", ticklabelstandoff=12,
        tickfont=dict(family=FONT, size=13, color=TXT),
        showgrid=True, gridcolor=GRID, griddash="dash", gridwidth=1,
        minor=dict(dtick=86400000, tick0="2020-07-11", showgrid=True,
                   gridcolor=GRID, griddash="dash", gridwidth=1),
        showline=True, linecolor=FRAME, linewidth=1, mirror=True,
        zeroline=False,
        title=dict(text="Date (UTC)", font=dict(family=FONT, size=13, color=TXT), standoff=6),
    ),
    yaxis=dict(
        range=[-10, 35], tickvals=temp_ticks, automargin=False,
        ticks="", ticklabelstandoff=10,
        tickfont=dict(family=FONT, size=13, color=TXT),
        showgrid=True, gridcolor=GRID, griddash="dash", gridwidth=1,
        showline=True, linecolor=FRAME, linewidth=1, mirror=True,
        zeroline=False,
        title=dict(text="850 hPa Temp. (°C)", font=dict(family=FONT, size=12.5, color=TXT), standoff=0),
    ),
    yaxis2=dict(
        range=[0, 40], tickvals=prec_ticks, overlaying="y", side="right", automargin=False,
        ticks="inside", ticklen=7, tickcolor=FRAME, tickwidth=1,
        minor=dict(dtick=1, ticks="inside", ticklen=7, tickcolor=FRAME, tickwidth=1),
        ticklabelstandoff=4,
        tickfont=dict(family=FONT, size=13, color=TXT),
        showgrid=False, zeroline=False,
        showline=True, linecolor=FRAME, linewidth=1,
    ),
)

fig.write_html("out.html")
